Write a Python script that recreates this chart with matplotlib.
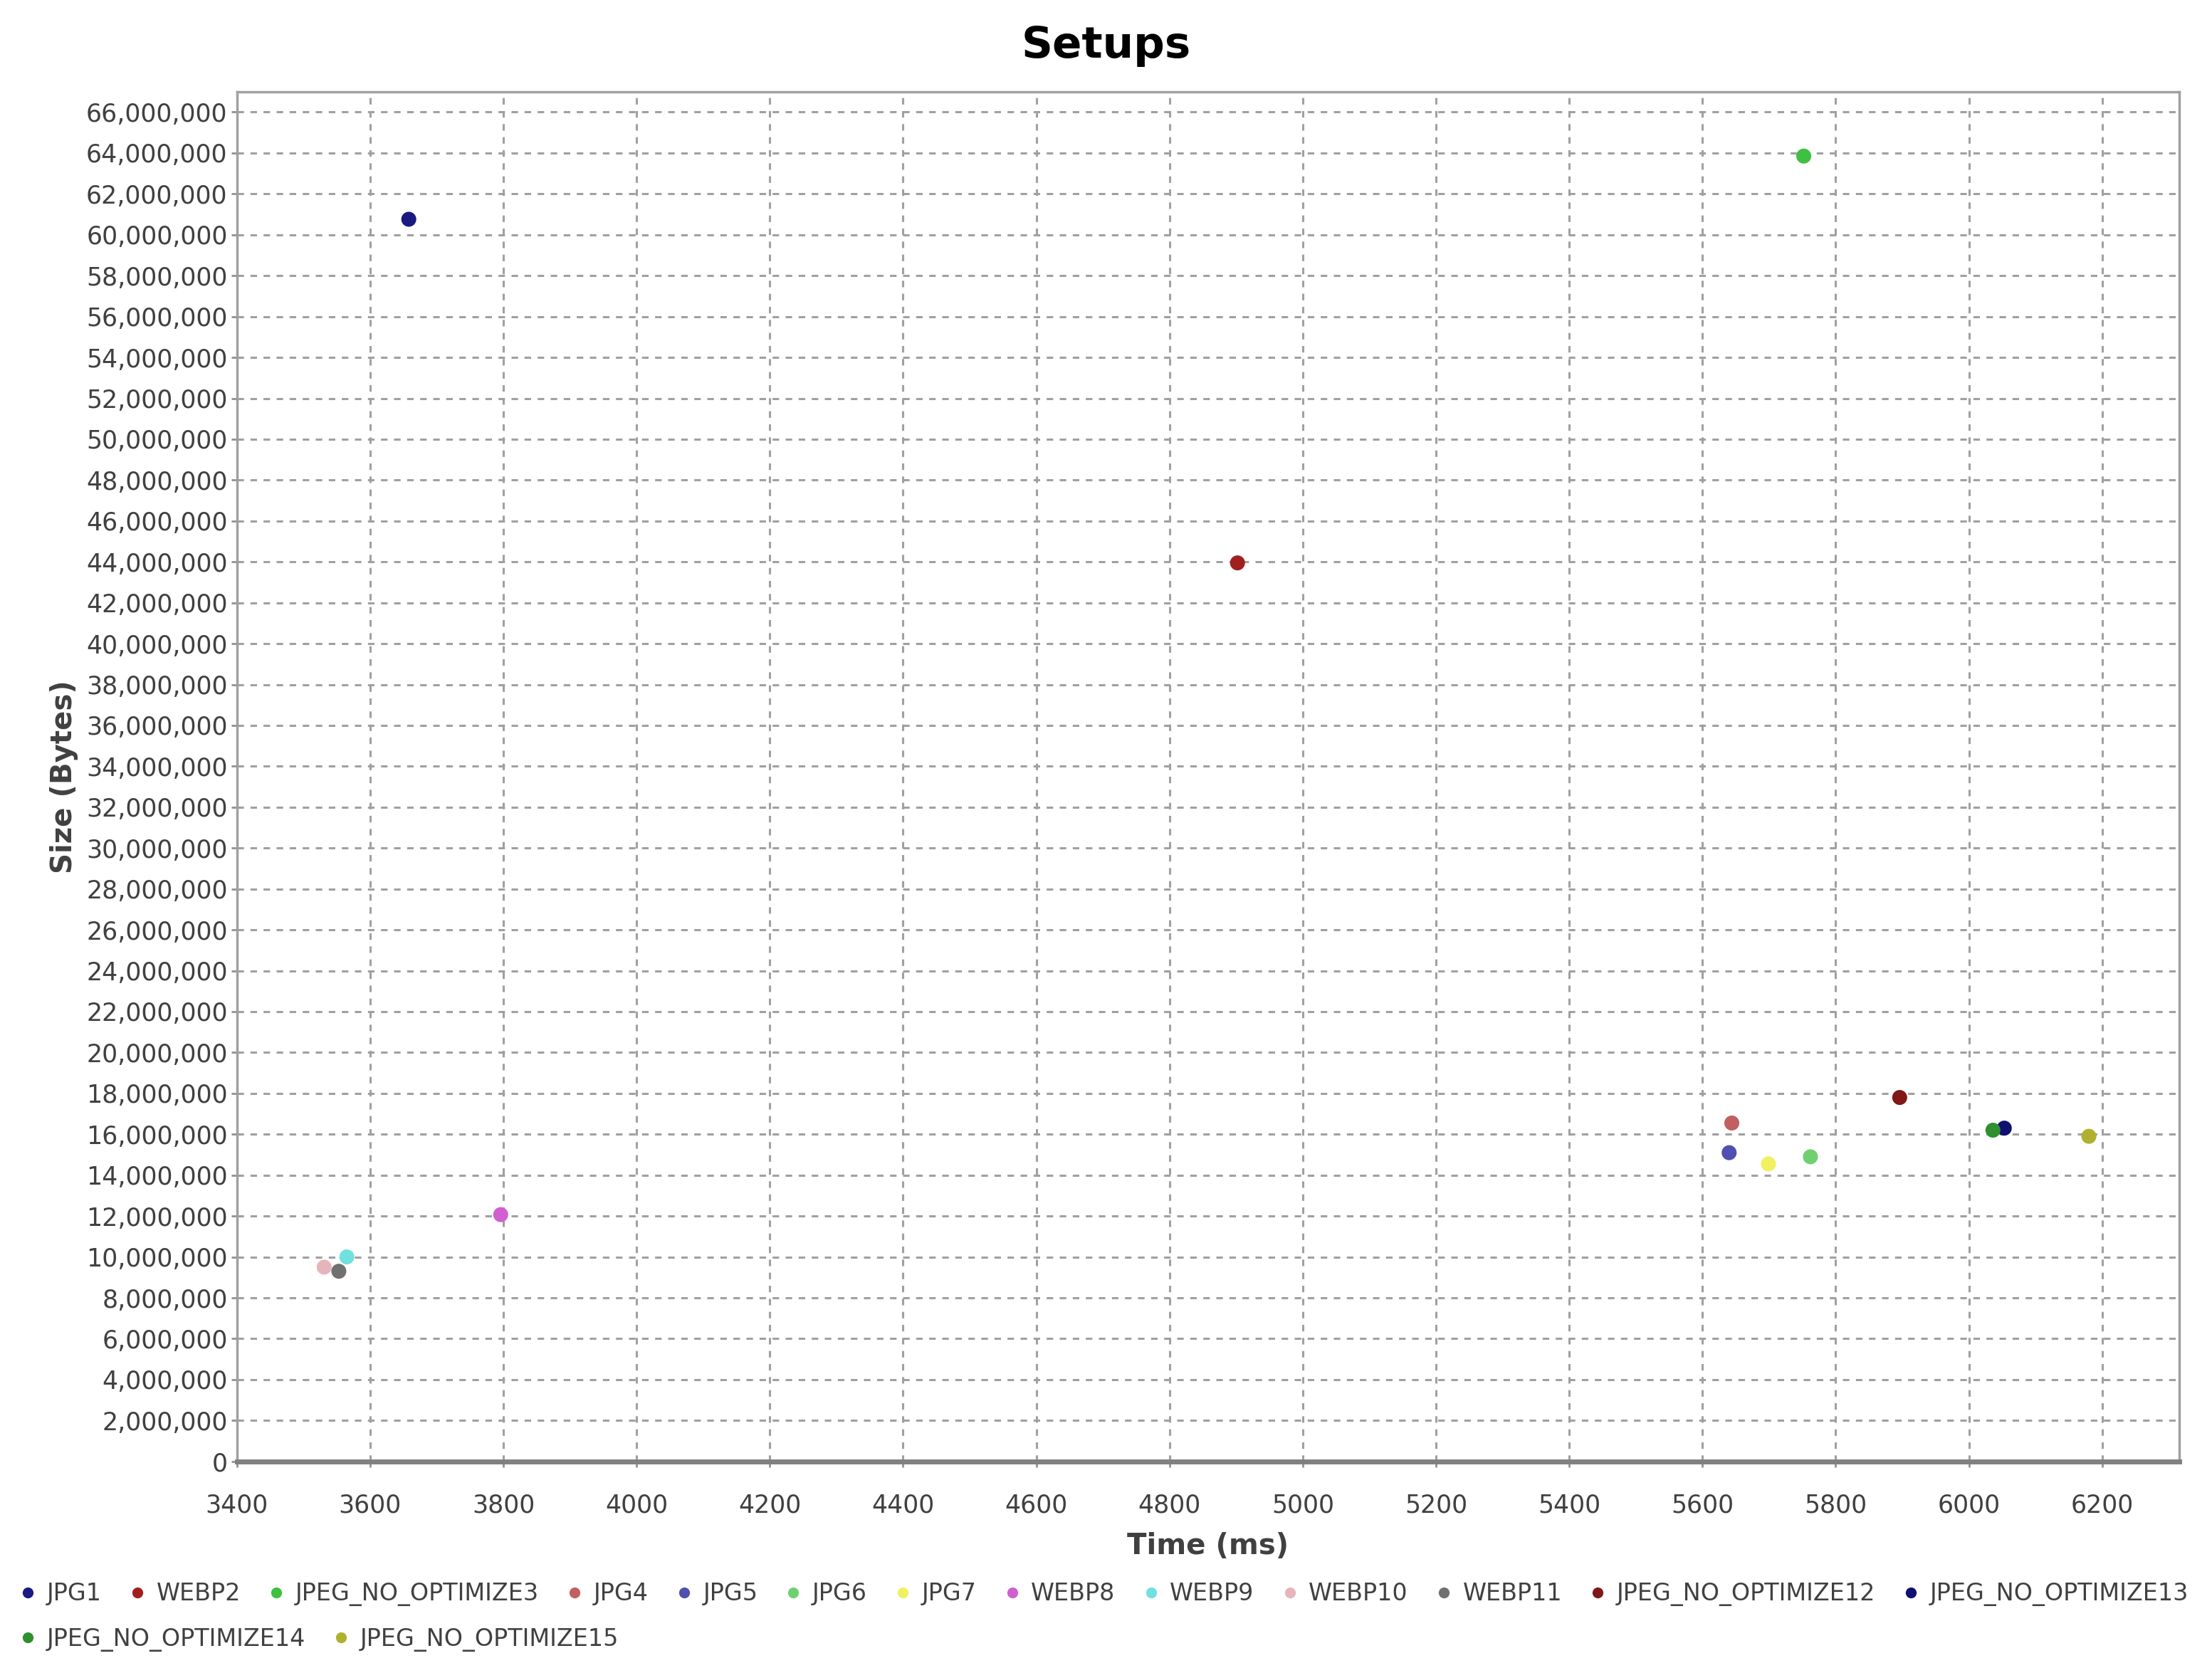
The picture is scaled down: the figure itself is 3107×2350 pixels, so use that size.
import matplotlib
matplotlib.use("Agg")
import matplotlib.pyplot as plt
from matplotlib.ticker import FuncFormatter, MultipleLocator
from matplotlib.lines import Line2D

plt.rcParams['font.family'] = ['DejaVu Sans']

series = ["JPG1", "WEBP2", "JPEG_NO_OPTIMIZE3", "JPG4", "JPG5", "JPG6", "JPG7",
          "WEBP8", "WEBP9", "WEBP10", "WEBP11", "JPEG_NO_OPTIMIZE12",
          "JPEG_NO_OPTIMIZE13", "JPEG_NO_OPTIMIZE14", "JPEG_NO_OPTIMIZE15"]
time_ms = [3658, 4902, 5752, 5644, 5640, 5762, 5699,
           3796, 3565, 3531, 3553, 5896, 6053, 6036, 6180]
size_bytes = [60_760_000, 43_950_000, 63_850_000, 16_550_000, 15_100_000, 14_900_000, 14_550_000,
              12_070_000, 10_000_000, 9_500_000, 9_300_000, 17_800_000, 16_300_000, 16_200_000, 15_900_000]
colors = ["#1a1a80", "#a02020", "#40c040", "#c06060", "#5050b0", "#70d070", "#f0f060",
          "#d060d0", "#70e0e0", "#e8b4bc", "#707070", "#801818", "#101070", "#309030", "#b0b030"]

fig = plt.figure(figsize=(31.07, 23.5), dpi=100)
ax = fig.add_axes([0.1071, 0.1265, 0.8782, 0.8187])

for name, x, y, c in zip(series, time_ms, size_bytes, colors):
    ax.scatter([x], [y], s=230, color=c, edgecolors='none', zorder=3, label=name)

ax.set_xlim(3400, 6316)
ax.set_ylim(0, 67_000_000)
ax.xaxis.set_major_locator(MultipleLocator(200))
ax.yaxis.set_major_locator(MultipleLocator(2_000_000))
ax.yaxis.set_major_formatter(FuncFormatter(lambda v, p: f"{v:,.0f}"))
ax.xaxis.set_major_formatter(FuncFormatter(lambda v, p: f"{v:.0f}"))
ax.grid(True, color='#a0a0a0', linestyle=(0, (3, 3)), linewidth=2.2)
ax.set_axisbelow(True)
ax.tick_params(axis='both', labelsize=25, labelcolor='#404040', colors='#909090',
               length=6, width=2)
ax.tick_params(axis='x', pad=26)
for s in ax.spines.values():
    s.set_color('#a0a0a0')
    s.set_linewidth(2.5)
ax.spines['bottom'].set_color('#808080')
ax.spines['bottom'].set_linewidth(5)

ax.set_xlabel("Time (ms)", fontsize=29, fontweight='bold', color='#404040', labelpad=15)
ax.set_ylabel("Size (Bytes)", fontsize=29, fontweight='bold', color='#404040', labelpad=8)
fig.suptitle("Setups", fontsize=44, fontweight='bold', y=0.985)

handles = [Line2D([0], [0], marker='o', linestyle='none', markersize=11,
                  markerfacecolor=c, markeredgecolor='none') for c in colors]
leg1 = fig.legend(handles[:13], series[:13], loc='upper left', bbox_to_anchor=(0.003, 0.06),
                  ncol=13, frameon=False, fontsize=24, handletextpad=0.3,
                  columnspacing=1.0, handlelength=1.0, borderaxespad=0)
leg2 = fig.legend(handles[13:], series[13:], loc='upper left', bbox_to_anchor=(0.003, 0.033),
                  ncol=2, frameon=False, fontsize=24, handletextpad=0.3,
                  columnspacing=1.0, handlelength=1.0, borderaxespad=0)
for t in leg1.get_texts() + leg2.get_texts():
    t.set_color('#404040')

fig.savefig("out.png", dpi=100, facecolor='white')
